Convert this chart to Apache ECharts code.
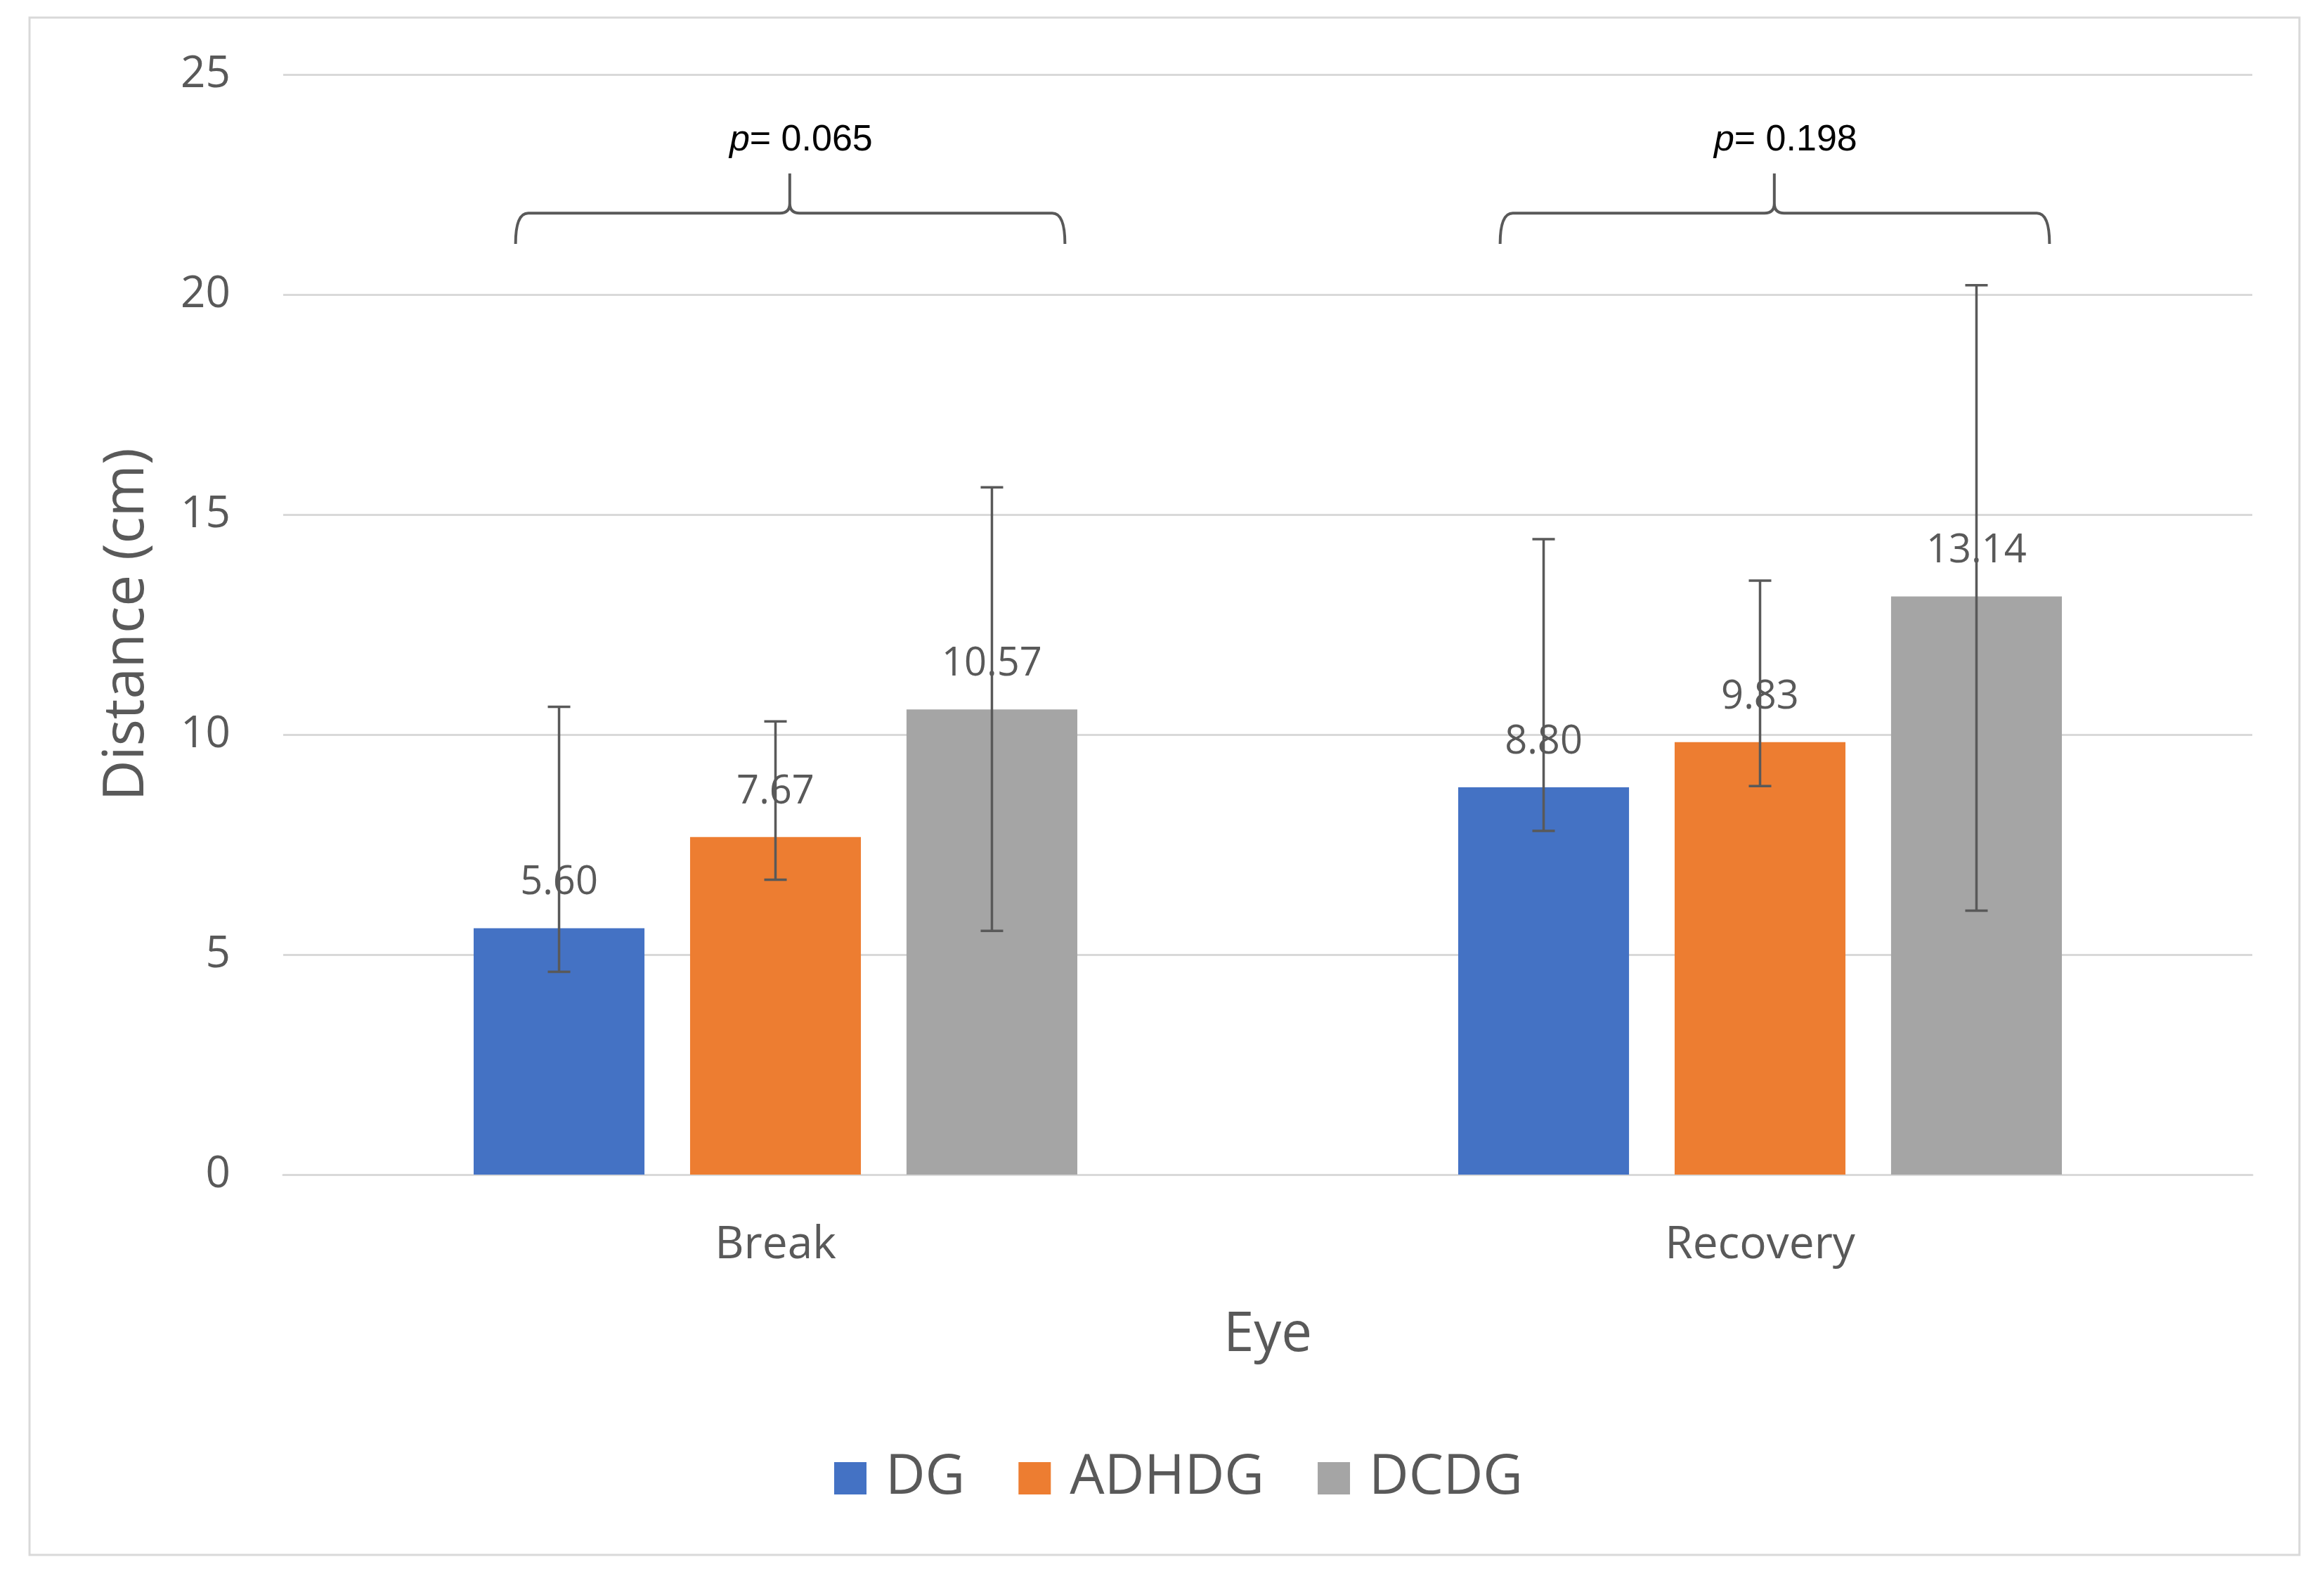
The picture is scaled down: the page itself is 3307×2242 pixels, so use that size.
<!DOCTYPE html>
<html><head><meta charset="utf-8">
<script src="https://cdn.jsdelivr.net/npm/echarts@6/dist/echarts.min.js"></script>
<style>html,body{margin:0;padding:0;background:#fff}#chart{width:3307px;height:2242px}</style>
</head><body><div id="chart"></div>
<script>
// ---- data ----
const categories = ['Break', 'Recovery'];
const seriesNames = ['DG', 'ADHDG', 'DCDG'];
const dgValues = [5.60, 8.80];
const adhdgValues = [7.67, 9.83];
const dcdgValues = [10.57, 13.14];
const dgErrLow = [4.61, 7.81];
const dgErrHigh = [10.63, 14.44];
const adhdgErrLow = [6.70, 8.83];
const adhdgErrHigh = [10.30, 13.50];
const dcdgErrLow = [5.54, 6.00];
const dcdgErrHigh = [15.62, 20.21];
const pValues = ['0.065', '0.198'];
const yTicks = { min: 0, max: 25, interval: 5 };
const bracketLevel = 21.85, bracketEnd = 21.15, bracketTip = 22.75, pTextLevel = 23.5;

// ---- style ----
const colors = ['#4472C4', '#ED7D31', '#A5A5A5'];
const textColor = '#595959';
const gridColor = '#D9D9D9';
const barWidthFrac = 0.1735, barGapFrac = 0.267;
const FONT = "'Open Sans', 'Noto Sans', sans-serif";

const valueArrays = [dgValues, adhdgValues, dcdgValues];
const errLows = [dgErrLow, adhdgErrLow, dcdgErrLow];
const errHighs = [dgErrHigh, adhdgErrHigh, dcdgErrHigh];

const errData = [];
for (let s = 0; s < 3; s++) {
  for (let c = 0; c < categories.length; c++) {
    errData.push([c, errLows[s][c], errHighs[s][c], s]);
  }
}
const bracketData = categories.map((_, c) => [c, bracketLevel, bracketEnd, bracketTip, pTextLevel, pValues[c]]);

const chart = echarts.init(document.getElementById('chart'));

const barSeries = seriesNames.map((name, s) => ({
  name: name,
  type: 'bar',
  data: valueArrays[s],
  barWidth: (barWidthFrac * 100) + '%',
  barGap: (barGapFrac * 100) + '%',
  itemStyle: { color: colors[s] },
  z: 2,
  label: {
    show: true,
    position: 'top',
    distance: 36,
    fontFamily: FONT,
    fontSize: 56,
    color: textColor,
    formatter: p => p.value.toFixed(2)
  }
}));

const option = {
  backgroundColor: '#fff',
  animation: false,
  graphic: [{
    type: 'rect',
    shape: { x: 42, y: 25, width: 3230, height: 2187 },
    style: { fill: 'none', stroke: '#D9D9D9', lineWidth: 3 },
    silent: true
  }],
  grid: { left: 403, right: 102, top: 106, bottom: 571, containLabel: false, outerBoundsMode: 'none' },
  legend: {
    data: seriesNames,
    left: 1182,
    top: 2059,
    itemWidth: 46,
    itemHeight: 46,
    itemGap: 76,
    icon: 'rect',
    textStyle: { fontFamily: FONT, fontSize: 78, color: textColor, padding: [0, 0, 0, 22] }
  },
  xAxis: {
    type: 'category',
    data: categories,
    axisLine: { lineStyle: { color: gridColor, width: 3 } },
    axisTick: { show: false },
    axisLabel: { fontFamily: FONT, fontSize: 64, color: textColor, margin: 69 },
    name: 'Eye',
    nameLocation: 'middle',
    nameGap: 190,
    nameTextStyle: { fontFamily: FONT, fontSize: 78, color: textColor }
  },
  yAxis: {
    type: 'value',
    min: yTicks.min,
    max: yTicks.max,
    interval: yTicks.interval,
    axisLine: { show: false },
    axisTick: { show: false },
    splitLine: { lineStyle: { color: gridColor, width: 3 } },
    axisLabel: { fontFamily: FONT, fontSize: 62, color: textColor, margin: 75 },
    name: 'Distance (cm)',
    nameLocation: 'middle',
    nameGap: 182,
    nameTextStyle: { fontFamily: FONT, fontSize: 80, color: textColor }
  },
  series: [
    ...barSeries,
    {
      name: 'errors',
      type: 'custom',
      z: 5,
      silent: true,
      data: errData,
      encode: { x: 0, y: [1, 2] },
      renderItem: function (params, api) {
        const c = api.value(0);
        const s = api.value(3);
        const band = api.size([1, 0])[0];
        const bw = band * barWidthFrac;
        const off = (s - 1) * bw * (1 + barGapFrac);
        const lo = api.coord([c, api.value(1)]);
        const hi = api.coord([c, api.value(2)]);
        const x = lo[0] + off;
        const cap = 16;
        const st = { stroke: '#595959', lineWidth: 3.5, fill: 'none' };
        return {
          type: 'group',
          children: [
            { type: 'line', shape: { x1: x, y1: lo[1], x2: x, y2: hi[1] }, style: st },
            { type: 'line', shape: { x1: x - cap, y1: hi[1], x2: x + cap, y2: hi[1] }, style: st },
            { type: 'line', shape: { x1: x - cap, y1: lo[1], x2: x + cap, y2: lo[1] }, style: st }
          ]
        };
      }
    },
    {
      name: 'brackets',
      type: 'custom',
      z: 5,
      silent: true,
      data: bracketData,
      encode: { x: 0, y: 1 },
      renderItem: function (params, api) {
        const c = api.value(0);
        const band = api.size([1, 0])[0];
        const p = api.coord([c, api.value(1)]);
        const yLine = p[1];
        const yEnd = api.coord([c, api.value(2)])[1];
        const yTip = api.coord([c, api.value(3)])[1];
        const yText = api.coord([c, api.value(4)])[1];
        const xL = p[0] - 0.264 * band;
        const xR = p[0] + 0.294 * band;
        const xT = p[0] + 0.0145 * band;
        const r = 18, rt = 14;
        const d = [
          'M', xL, yEnd,
          'Q', xL, yLine, xL + r, yLine,
          'L', xT - rt, yLine,
          'Q', xT, yLine, xT, yLine - rt,
          'L', xT, yTip,
          'M', xT, yLine - rt,
          'Q', xT, yLine, xT + rt, yLine,
          'L', xR - r, yLine,
          'Q', xR, yLine, xR, yEnd
        ].join(' ');
        const pv = bracketData[params.dataIndex][5];
        return {
          type: 'group',
          children: [
            { type: 'path', shape: { pathData: d }, style: { stroke: '#595959', lineWidth: 4, fill: 'none' } },
            {
              type: 'text',
              style: {
                x: xT + 16, y: yText,
                text: '{i|p}= ' + pv,
                align: 'center', verticalAlign: 'middle',
                fontFamily: "'Liberation Sans', Arial, sans-serif",
                fontSize: 52,
                fill: '#000',
                rich: { i: { fontStyle: 'italic', fontFamily: "'Liberation Sans', Arial, sans-serif", fontSize: 52, fill: '#000' } }
              }
            }
          ]
        };
      }
    }
  ]
};
chart.setOption(option);
</script>
</body></html>
